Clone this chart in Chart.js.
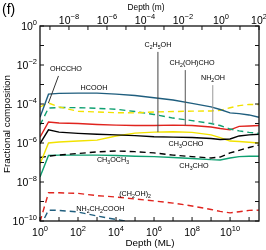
<!DOCTYPE html>
<html lang="en">
<head>
<meta charset="UTF-8">
<title>Fractional composition vs depth</title>
<script src="https://cdn.jsdelivr.net/npm/chart.js"></script>
<style>
  html, body { margin: 0; padding: 0; background: #fff; }
  canvas { display: block; }
</style>
</head>
<body>
<canvas id="chart" width="266" height="250"></canvas>
<script>
// depth grid (monolayers)
const depthML = [1, 2.8, 10, 1e2, 1e3, 1e4, 1e5, 1e6, 1e7, 1e8, 1e9, 3e9, 1e10, 3e10, 1e11, 3.3e11];

// fractional composition of each species
const hcooh      = [2.1e-5, 3.2e-4, 3.5e-4, 3.6e-4, 3.6e-4, 3.2e-4, 2.75e-4, 2.1e-4, 1.6e-4, 1.07e-4, 7.1e-5, 5.2e-5, 3.5e-5, 3.2e-5, 2.75e-5, 2.1e-5];
const ohccho     = [7.1e-5, 1.12e-4, 7.1e-5, 4.2e-5, 3.9e-5, 3.6e-5, 3.5e-5, 3.9e-5, 4.1e-5, 4.3e-5, 4.4e-5, 4.7e-5, 6.4e-5, 8.3e-5, 9.5e-5, 9.5e-5];
const nh2oh      = [8.3e-6, 6.2e-5, 6.6e-5, 6.5e-5, 6.0e-5, 5.4e-5, 4.1e-5, 2.9e-5, 1.9e-5, 1.4e-5, 1.0e-5, 7.9e-6, 5.2e-6, 4.2e-6, 3.5e-6, 3.1e-6];
const ch2ohcho   = [2.0e-6, 1.2e-5, 1.07e-5, 1.0e-5, 8.9e-6, 8.3e-6, 7.9e-6, 7.9e-6, 8.3e-6, 7.9e-6, 6.6e-6, 5.5e-6, 4.7e-6, 7.1e-6, 7.4e-6, 7.9e-6];
const ch3ocho    = [9.3e-7, 4.7e-6, 3.6e-6, 3.1e-6, 2.8e-6, 2.6e-6, 2.4e-6, 2.1e-6, 2.0e-6, 1.9e-6, 1.7e-6, 1.5e-6, 1.6e-6, 2.3e-6, 2.6e-6, 2.8e-6];
const c2h5oh     = [8.3e-8, 1.0e-6, 1.12e-6, 1.26e-6, 1.41e-6, 2.3e-6, 3.2e-6, 3.6e-6, 3.8e-6, 3.5e-6, 2.6e-6, 1.9e-6, 1.26e-6, 1.2e-6, 1.1e-6, 1.0e-6];
const ch3och3    = [1.8e-7, 2.1e-7, 2.4e-7, 2.9e-7, 3.5e-7, 3.9e-7, 3.6e-7, 3.1e-7, 2.4e-7, 2.0e-7, 1.7e-7, 1.9e-7, 3.1e-7, 4.2e-7, 5.9e-7, 7.9e-7];
const ch3cho     = [1.8e-8, 2.3e-7, 2.4e-7, 2.4e-7, 2.4e-7, 2.3e-7, 2.1e-7, 2.0e-7, 1.8e-7, 1.6e-7, 1.4e-7, 1.35e-7, 1.7e-7, 2.0e-7, 2.1e-7, 2.1e-7];
const ch2oh2     = [9e-11, 2.8e-9, 2.8e-9, 2.6e-9, 2.0e-9, 1.7e-9, 1.35e-9, 1.07e-9, 8.3e-10, 5.9e-10, 3.9e-10, 3.1e-10, 2.6e-10, 3.0e-10, 3.5e-10, 3.6e-10];
const glycine    = [5.0e-11, 3.6e-10, 3.5e-10, 2.9e-10, 1.8e-10, 1.2e-10, 8.3e-11, 5.5e-11, 3.5e-11, null, null, null, null, null, null, null];

// tick exponents
const mlTicks = [0, 2, 4, 6, 8, 10];
const mTicks = [-8, -6, -4, -2, 0, 2];
const fracTicks = [0, -2, -4, -6, -8, -10];

const TEAL = '#1f5e7e', YEL = '#f2e200', GRN = '#0fa071', RED = '#e0241e', BLK = '#000';

const series = [
  { data: hcooh, color: TEAL, dash: [] },
  { data: ohccho, color: YEL, dash: [6, 4] },
  { data: nh2oh, color: GRN, dash: [6, 4] },
  { data: ch2ohcho, color: RED, dash: [] },
  { data: ch3ocho, color: BLK, dash: [] },
  { data: c2h5oh, color: YEL, dash: [] },
  { data: ch3och3, color: BLK, dash: [6, 4] },
  { data: ch3cho, color: GRN, dash: [] },
  { data: ch2oh2, color: RED, dash: [6, 4] },
  { data: glycine, color: TEAL, dash: [6, 4] }
];

// species labels, in data units ("_" = subscript next char)
const notes = [
  { t: 'OHCCHO', x: 23, y: 6.2e-3 },
  { t: 'HCOOH', x: 690, y: 6.6e-4 },
  { t: 'C_2H_5OH', x: 1.6e6, y: 0.107 },
  { t: 'CH_2(OH)CHO', x: 1e8, y: 0.0126 },
  { t: 'NH_2OH', x: 1.26e9, y: 2.1e-3 },
  { t: 'CH_3OCHO', x: 4.8e7, y: 8.9e-7 },
  { t: 'CH_3OCH_3', x: 6.9e3, y: 1.4e-7 },
  { t: 'CH_3CHO', x: 1.26e8, y: 6.6e-8 },
  { t: '(CH_2OH)_2', x: 1e5, y: 2.4e-9 },
  { t: 'NH_2CH_2COOH', x: 1.5e3, y: 4.2e-10 }
];
const leaders = [
  { x1: 9.4, y1: 2.75e-3, x2: 2.75, y2: 1.1e-4, c: '#333' },
  { x1: 1.6e6, y1: 0.047, x2: 1.6e6, y2: 3.6e-6, c: '#444' },
  { x1: 4.4e7, y1: 5.5e-3, x2: 4.4e7, y2: 8.1e-6, c: '#555' },
  { x1: 1.23e9, y1: 9.3e-4, x2: 1.23e9, y2: 1.0e-5, c: '#999' }
];

const FONT = '"Liberation Sans", Arial, sans-serif';

function drawRich(ctx, str, cx, cy, size, sx) {
  const parts = [];
  for (let i = 0; i < str.length; i++) {
    if (str[i] === '_') { parts.push({ t: str[i + 1], sub: true }); i++; }
    else parts.push({ t: str[i], sub: false });
  }
  let w = 0;
  parts.forEach(p => {
    ctx.font = (p.sub ? size * 0.72 : size) + 'px ' + FONT;
    p.w = ctx.measureText(p.t).width;
    w += p.w;
  });
  ctx.save();
  ctx.translate(cx, cy);
  ctx.scale(sx, 1);
  ctx.textAlign = 'left';
  ctx.textBaseline = 'middle';
  let x = -w / 2;
  parts.forEach(p => {
    ctx.font = (p.sub ? size * 0.72 : size) + 'px ' + FONT;
    ctx.fillText(p.t, x, p.sub ? size * 0.32 : 0);
    x += p.w;
  });
  ctx.restore();
}

function drawPow(ctx, e, x, y, align) {
  const base = '10', exp = String(e).replace('-', '\u2212');
  ctx.font = '10.5px ' + FONT;
  const wb = ctx.measureText(base).width;
  ctx.font = '7.5px ' + FONT;
  const we = ctx.measureText(exp).width;
  let x0 = align === 'right' ? x - wb - we : x - (wb + we) / 2;
  ctx.textAlign = 'left';
  ctx.textBaseline = 'middle';
  ctx.font = '10.5px ' + FONT;
  ctx.fillText(base, x0, y);
  ctx.font = '7.5px ' + FONT;
  ctx.fillText(exp, x0 + wb, y - 4);
}

const decor = {
  id: 'decor',
  afterDraw(chart) {
    const ctx = chart.ctx;
    const { left, right, top, bottom } = chart.chartArea;
    const sx = chart.scales.x, sy = chart.scales.y, sm = chart.scales.xm;
    ctx.save();
    ctx.fillStyle = '#000';

    // leader lines
    ctx.lineWidth = 1;
    leaders.forEach(l => {
      ctx.strokeStyle = l.c;
      ctx.beginPath();
      ctx.moveTo(sx.getPixelForValue(l.x1), sy.getPixelForValue(l.y1));
      ctx.lineTo(sx.getPixelForValue(l.x2), sy.getPixelForValue(l.y2));
      ctx.stroke();
    });

    // frame and inward ticks
    ctx.strokeStyle = '#111';
    ctx.lineWidth = 1.3;
    ctx.strokeRect(left, top, right - left, bottom - top);
    ctx.lineWidth = 1;
    ctx.beginPath();
    for (let e = 0; e <= 11; e++) {
      const px = sx.getPixelForValue(Math.pow(10, e));
      ctx.moveTo(px, bottom); ctx.lineTo(px, bottom - 4);
    }
    for (let e = -9; e <= 2; e++) {
      const px = sm.getPixelForValue(Math.pow(10, e));
      ctx.moveTo(px, top); ctx.lineTo(px, top + 4);
    }
    for (let e = -10; e <= 0; e++) {
      const py = sy.getPixelForValue(Math.pow(10, e));
      ctx.moveTo(left, py); ctx.lineTo(left + 4, py);
      ctx.moveTo(right, py); ctx.lineTo(right - 4, py);
    }
    ctx.stroke();

    // tick labels
    mlTicks.forEach(e => drawPow(ctx, e, sx.getPixelForValue(Math.pow(10, e)), bottom + 12, 'center'));
    mTicks.forEach(e => drawPow(ctx, e, sm.getPixelForValue(Math.pow(10, e)), top - 5, 'center'));
    fracTicks.forEach(e => drawPow(ctx, e, left - 3, sy.getPixelForValue(Math.pow(10, e)) + 1, 'right'));

    // axis titles
    ctx.textAlign = 'center';
    ctx.textBaseline = 'middle';
    ctx.font = '9.8px ' + FONT;
    ctx.fillText('Depth (ML)', 150, 243);
    ctx.save();
    ctx.translate(146, 7);
    ctx.scale(0.85, 1);
    ctx.fillText('Depth (m)', 0, 0);
    ctx.restore();
    ctx.save();
    ctx.translate(7, 124);
    ctx.rotate(-Math.PI / 2);
    ctx.fillText('Fractional composition', 0, 0);
    ctx.restore();

    ctx.textAlign = 'left';
    ctx.font = '14px ' + FONT;
    ctx.fillText('(f)', 2, 10);

    // species labels
    notes.forEach(n => drawRich(ctx, n.t, sx.getPixelForValue(n.x), sy.getPixelForValue(n.y), 8, 0.9));
    ctx.restore();
  }
};

new Chart(document.getElementById('chart'), {
  type: 'line',
  data: {
    datasets: series.map(s => ({
      data: depthML.map((d, i) => ({ x: d, y: s.data[i] })),
      borderColor: s.color,
      borderDash: s.dash,
      borderWidth: 1.4,
      pointRadius: 0,
      tension: 0,
      fill: false
    }))
  },
  options: {
    responsive: false,
    animation: false,
    events: [],
    layout: { padding: { left: 40, right: 7, top: 26, bottom: 29 } },
    plugins: { legend: { display: false }, tooltip: { enabled: false } },
    scales: {
      x: { type: 'logarithmic', min: 1, max: 3.33e11, display: false },
      y: { type: 'logarithmic', min: 1e-10, max: 1, display: false },
      xm: { type: 'logarithmic', axis: 'x', position: 'top', min: 3e-10, max: 100, display: false }
    }
  },
  plugins: [decor]
});
</script>
</body>
</html>
